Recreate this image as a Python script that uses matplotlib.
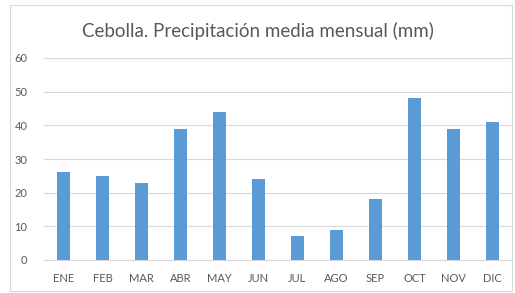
import matplotlib.pyplot as plt
from matplotlib.patches import Rectangle

months = ['ENE', 'FEB', 'MAR', 'ABR', 'MAY', 'JUN', 'JUL', 'AGO', 'SEP', 'OCT', 'NOV', 'DIC']
precip = [26, 25, 23, 39, 44, 24, 7, 9, 18, 48, 39, 41]
yticks = [0, 10, 20, 30, 40, 50, 60]

plt.rcParams['font.family'] = ['Lato', 'DejaVu Sans']

fig = plt.figure(figsize=(5.15, 2.93), dpi=100)
# chart border
fig.patches.append(Rectangle((10 / 515, 2 / 293), 502 / 515, 286 / 293, transform=fig.transFigure,
                             fill=False, edgecolor='#d9d9d9', linewidth=0.8))

ax = fig.add_axes([44 / 515, 1 - 260 / 293, 468 / 515, 202 / 293])
x = range(len(months))
ax.bar(x, precip, width=0.31, color='#5b9bd5', zorder=3)

ax.set_xlim(-0.5, 11.5)
ax.set_ylim(0, 60)
ax.set_yticks(yticks)
ax.set_xticks(list(x))
ax.set_xticklabels(months)
ax.grid(axis='y', color='#d9d9d9', linewidth=0.8, zorder=0)
for s in ['top', 'right', 'left']:
    ax.spines[s].set_visible(False)
ax.spines['bottom'].set_color('#d9d9d9')
ax.tick_params(length=0, labelsize=8, colors='#595959', pad=9)
ax.tick_params(axis='y', pad=12)

fig.text(0.5, 1 - 31 / 293, 'Cebolla. Precipitación media mensual (mm)', ha='center', va='center',
         fontsize=13.5, color='#595959')

fig.savefig('out.png', dpi=100)
